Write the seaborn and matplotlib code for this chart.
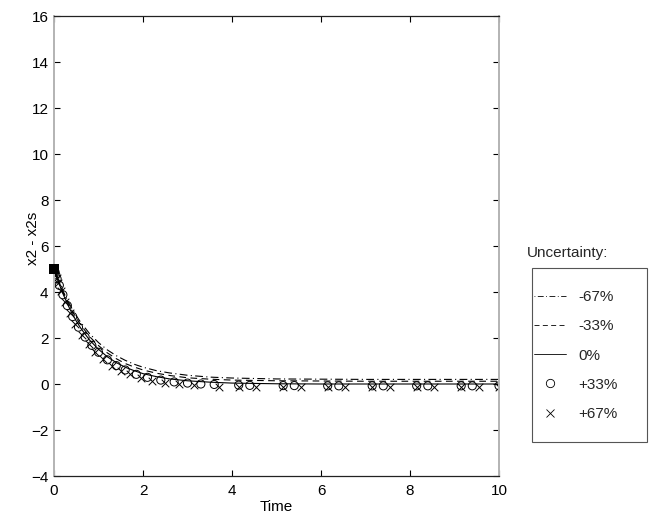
import matplotlib
matplotlib.use("Agg")
import matplotlib.pyplot as plt
from matplotlib.lines import Line2D
from matplotlib.patches import Rectangle
import pandas as pd
import seaborn as sns

# time grid of the three line cases
t_line = [0, 0.1, 0.2, 0.3, 0.4, 0.5, 0.6, 0.8, 1.0, 1.2, 1.4, 1.6, 1.8, 2.0,
          2.3, 2.6, 3.0, 3.5, 4.0, 5.0, 6.0, 7.0, 8.0, 9.0, 10.0]
minus67 = [5.0, 4.50, 4.05, 3.65, 3.29, 2.97, 2.68, 2.19, 1.80, 1.48, 1.23, 1.03,
           0.86, 0.73, 0.58, 0.48, 0.38, 0.30, 0.26, 0.22, 0.21, 0.20, 0.20, 0.20, 0.20]
minus33 = [5.0, 4.47, 3.99, 3.58, 3.20, 2.87, 2.57, 2.06, 1.67, 1.35, 1.10, 0.89,
           0.74, 0.61, 0.47, 0.37, 0.27, 0.21, 0.17, 0.14, 0.13, 0.12, 0.12, 0.12, 0.12]
nominal = [5.0, 4.43, 3.93, 3.49, 3.09, 2.74, 2.43, 1.91, 1.51, 1.18, 0.93, 0.73,
           0.58, 0.45, 0.32, 0.22, 0.14, 0.08, 0.04, 0.01, 0.0, 0.0, 0.0, 0.0, 0.0]

# marker cases (solver steps)
t_plus33 = [0, 0.02, 0.04, 0.07, 0.12, 0.2, 0.3, 0.42, 0.55, 0.7, 0.85, 1.0, 1.2,
            1.4, 1.6, 1.85, 2.1, 2.4, 2.7, 3.0, 3.3, 3.6, 4.15, 4.4, 5.15, 5.4,
            6.15, 6.4, 7.15, 7.4, 8.15, 8.4, 9.15, 9.4, 10.0]
plus33 = [5.0, 4.87, 4.75, 4.57, 4.29, 3.88, 3.41, 2.93, 2.47, 2.04, 1.68, 1.38, 1.05,
          0.80, 0.61, 0.42, 0.29, 0.17, 0.09, 0.04, 0.0, -0.02, -0.05, -0.06, -0.07, -0.07,
          -0.08, -0.08, -0.08, -0.08, -0.08, -0.08, -0.08, -0.08, -0.08]
t_plus67 = [0, 0.03, 0.06, 0.1, 0.16, 0.25, 0.36, 0.48, 0.62, 0.78, 0.93, 1.1, 1.3,
            1.5, 1.7, 1.95, 2.2, 2.5, 2.8, 3.15, 3.7, 4.15, 4.55, 5.15, 5.55, 6.15,
            6.55, 7.15, 7.55, 8.15, 8.55, 9.15, 9.55, 10.0]
plus67 = [5.0, 4.80, 4.61, 4.37, 4.03, 3.57, 3.08, 2.61, 2.15, 1.72, 1.39, 1.08, 0.80,
          0.58, 0.42, 0.26, 0.15, 0.05, -0.01, -0.06, -0.11, -0.13, -0.14, -0.15, -0.15,
          -0.15, -0.15, -0.15, -0.15, -0.15, -0.15, -0.15, -0.15, -0.15]

t0 = [0.0]
x0 = [5.0]

labels = ["-67%", "-33%", "0%", "+33%", "+67%"]

sns.set_theme(style="white")
plt.rcParams["font.family"] = ["Liberation Sans", "DejaVu Sans"]
plt.rcParams["font.size"] = 11

lines = pd.concat([
    pd.DataFrame({"Time": t_line, "dx": minus67, "case": labels[0]}),
    pd.DataFrame({"Time": t_line, "dx": minus33, "case": labels[1]}),
    pd.DataFrame({"Time": t_line, "dx": nominal, "case": labels[2]}),
])
dash_map = {labels[0]: (1, 3, 7, 3), labels[1]: (6, 4), labels[2]: ""}

fig = plt.figure(figsize=(6.52, 5.15), dpi=100)
ax = fig.add_axes([54 / 652, 39 / 515, 445 / 652, 460 / 515])

sns.lineplot(data=lines, x="Time", y="dx", style="case", dashes=dash_map,
             color="black", linewidth=0.8, legend=False, ax=ax)
sns.scatterplot(x=t_plus33, y=plus33, marker="o", s=34, facecolors="none",
                edgecolor="black", linewidth=0.7, ax=ax)
sns.scatterplot(x=t_plus67, y=plus67, marker="x", s=30, color="black",
                linewidth=0.7, ax=ax)
sns.scatterplot(x=t0, y=x0, marker="s", s=45, color="black", linewidth=0,
                clip_on=False, ax=ax, zorder=5)

ax.set_xlim(0, 10)
ax.set_ylim(-4, 16)
ax.set_xticks(range(0, 11, 2))
ax.set_yticks(range(-4, 17, 2))
ax.tick_params(direction="in", length=4, width=0.8, color="black",
               top=True, right=True, bottom=True, left=True, labelsize=11,
               labelcolor="black")
ax.tick_params(axis="x", pad=6)
ax.tick_params(axis="y", pad=4)
for side in ["top", "bottom"]:
    ax.spines[side].set_color("#222222")
    ax.spines[side].set_linewidth(0.9)
for side in ["left", "right"]:
    ax.spines[side].set_color("#b3b3b3")
    ax.spines[side].set_linewidth(1.4)

ax.set_xlabel("Time", fontsize=11, labelpad=1, color="black")
ax.set_ylabel("x2 - x2s", fontsize=11, color="black")
ax.yaxis.set_label_coords(-0.031, 0.517)

# legend: title above a separate box
fig.text(527 / 652, (515 - 253) / 515, "Uncertainty:", fontsize=11,
         ha="left", va="center")
fig.patches.append(Rectangle((532 / 652, (515 - 442) / 515), 115 / 652, 174 / 515,
                             transform=fig.transFigure, fill=False,
                             edgecolor="#555555", linewidth=0.8))
handles = [
    Line2D([], [], color="black", linewidth=0.6, dashes=(1, 3, 7, 3)),
    Line2D([], [], color="black", linewidth=0.6, dashes=(6, 4)),
    Line2D([], [], color="black", linewidth=0.6),
    Line2D([], [], color="black", linestyle="none", marker="o", markersize=6,
           markerfacecolor="none", markeredgewidth=0.6),
    Line2D([], [], color="black", linestyle="none", marker="x", markersize=6,
           markeredgewidth=0.6),
]
fig.legend(handles, labels, loc="upper left",
           bbox_to_anchor=(534 / 652, (515 - 290) / 515), frameon=False,
           fontsize=11, borderpad=0, labelspacing=1.0, handlelength=2.1,
           handletextpad=0.8, borderaxespad=0)

fig.savefig("out.png", dpi=100)
